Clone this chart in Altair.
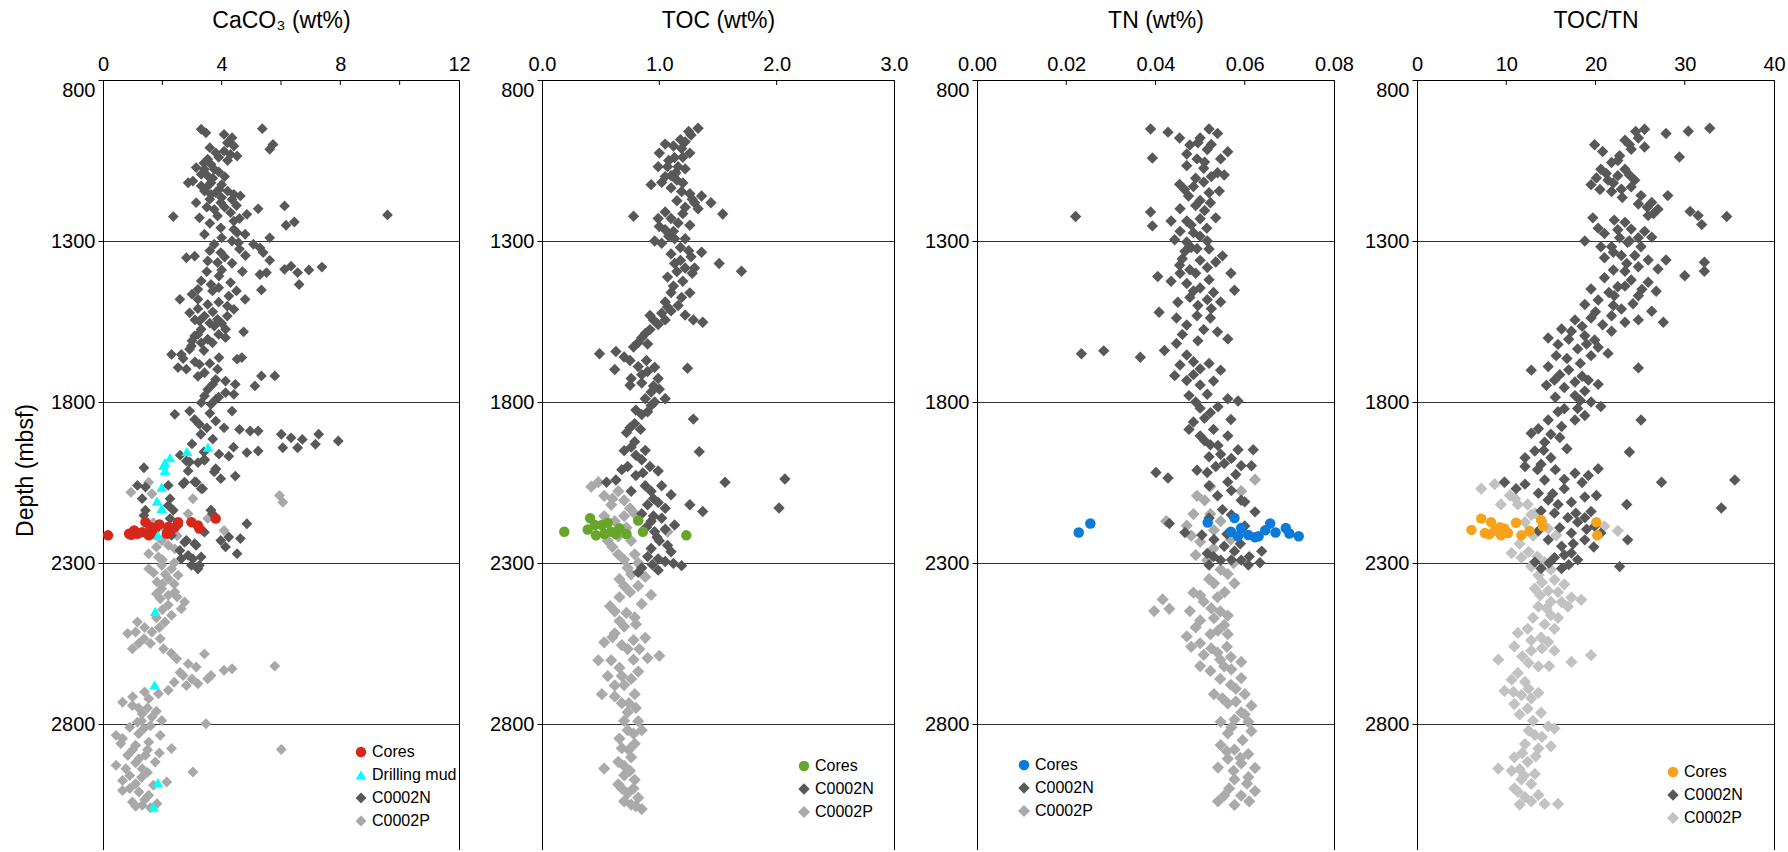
import altair as alt
import pandas as pd

FONT = "Liberation Sans"

# ---------------- CaCO3 panel (value wt%, depth mbsf) ----------------
CACO3_N = [(3.31,953),(3.47,964),(5.37,951),(4.08,969),(4.35,979),(4.19,995),(4.41,1005),(5.73,1000),(5.62,1015),(4.08,1021),(4.30,1031),(4.52,1036),(3.80,1026),(3.53,1046),(3.64,1062),(3.14,1072),(3.42,1077),(3.75,1077),(3.31,1093),(3.53,1098),(2.87,1119),(3.03,1114),(3.31,1129),(3.64,1119),(3.42,1145),(3.91,1140),(3.64,1155),(4.41,1155),(4.63,1160),(4.35,1171),(3.14,1181),(3.97,1181),(3.75,1202),(5.23,1200),(6.12,1191),(2.37,1224),(3.25,1228),(3.86,1222),(4.30,1212),(4.85,1217),(4.41,1238),(6.17,1251),(6.45,1241),(9.59,1219),(3.97,1259),(4.41,1264),(4.52,1274),(4.79,1279),(3.42,1279),(5.62,1290),(3.75,1310),(4.35,1300),(4.57,1305),(5.07,1310),(5.29,1321),(5.40,1336),(3.97,1336),(2.81,1352),(3.09,1347),(3.53,1362),(3.86,1367),(4.35,1369),(5.62,1360),(5.29,1404),(5.51,1398),(6.12,1388),(6.34,1378),(6.56,1398),(6.94,1390),(7.38,1381),(6.61,1435),(3.31,1424),(3.64,1435),(3.91,1409),(4.30,1429),(5.34,1452),(3.69,1455),(3.20,1450),(4.24,1471),(4.79,1481),(2.59,1481),(3.20,1481),(3.53,1497),(4.19,1502),(4.41,1512),(2.92,1523),(3.42,1533),(3.86,1543),(4.19,1533),(3.25,1548),(3.31,1574),(3.75,1564),(4.13,1574),(4.74,1582),(3.09,1595),(3.53,1605),(4.13,1600),(2.98,1626),(3.31,1616),(3.69,1616),(2.31,1652),(2.64,1652),(2.92,1636),(2.53,1693),(2.81,1698),(3.25,1683),(3.42,1709),(3.91,1662),(4.52,1667),(4.68,1662),(3.86,1698),(3.80,1730),(4.13,1735),(4.46,1745),(5.34,1719),(5.79,1719),(5.12,1750),(3.53,1761),(3.42,1781),(4.13,1771),(4.41,1776),(3.31,1802),(3.64,1807),(3.80,1792),(4.35,1828),(2.42,1838),(2.92,1828),(3.09,1854),(3.25,1869),(3.80,1859),(4.08,1880),(4.96,1890),(5.23,1890),(6.01,1900),(6.34,1911),(6.72,1916),(7.27,1900),(7.93,1921),(6.06,1942),(6.56,1942),(7.16,1931),(3.91,1962),(4.24,1968),(4.85,1957),(5.23,1952),(1.38,2004),(2.81,1983),(3.20,1988),(3.42,1978),(2.87,2014),(3.80,2009),(4.46,2030),(3.75,2017),(3.97,2038),(1.16,2059),(1.43,2064),(2.20,2059),(2.70,2054),(3.09,2048),(3.31,2069),(1.32,2100),(2.20,2121),(2.37,2136),(1.43,2136),(3.64,2136),(4.85,2178),(2.53,2183),(3.42,2204),(3.97,2230),(4.24,2219),(4.63,2224),(4.13,2250),(4.52,2271),(2.81,2230),(3.09,2240),(2.59,2261),(2.87,2276),(3.31,2281),(2.98,2307),(3.20,2318),(2.64,2287),(2.31,2214),(2.92,1986),(3.42,1981),(3.80,2007),(2.75,2049),(3.14,2049),(3.36,2069),(2.26,2100),(3.69,2147),(2.75,2235),(3.14,2245),(3.03,2287),(3.25,2307),(1.38,2152),(2.26,2162),
           (3.6,1010),(3.9,1040),(4.2,1050),(3.4,1058),(3.9,1085),(4.1,1100),(3.7,1105),(4.0,1125),(3.5,1132),(3.8,1150),(4.2,1145),(4.0,1165),(3.6,1170),(4.5,1190),(4.1,1195),(3.5,1195),(4.6,1230),(3.6,1245),(4.0,1290),(4.6,1325),(3.6,1330),(4.1,1350),(4.8,1345),(4.0,1390),(3.5,1395),(4.7,1395),(3.9,1445),(4.5,1455),(3.0,1465),(3.9,1490),(3.2,1510),(3.7,1520),(3.1,1545),(3.6,1555),(4.0,1555),(3.2,1590),(3.9,1590),(3.0,1610),(3.4,1640),(2.7,1665),(3.1,1675),(3.6,1680),(3.2,1720),(3.7,1745),(3.9,1785),(3.6,1835),(3.5,1880),(4.6,1885),(3.3,1900),(3.7,1915),(3.0,1930),(4.4,1940),(3.4,1955),(2.6,1965)]
CACO3_P = [(0.94,2080),(1.54,2049),(1.65,2085),(3.03,2100),(5.95,2090),(6.06,2111),(2.87,2147),(3.64,2136),(3.53,2162),(4.08,2199),(1.98,2230),(2.20,2245),(1.54,2271),(2.42,2256),(1.87,2281),(1.54,2318),(1.98,2307),(2.31,2318),(2.53,2338),(1.82,2359),(2.20,2349),(1.98,2380),(2.42,2390),(1.93,2411),(2.20,2400),(2.75,2421),(2.64,2442),(2.31,2462),(2.09,2483),(1.16,2483),(1.10,2514),(0.83,2519),(1.38,2535),(0.99,2566),(1.65,2514),(1.93,2535),(2.04,2566),(2.48,2597),(2.87,2613),(3.42,2582),(3.14,2623),(2.70,2649),(3.20,2675),(3.53,2659),(3.64,2649),(4.08,2633),(4.35,2628),(5.79,2620),(2.81,2680),(2.20,2695),(1.87,2706),(1.54,2721),(0.66,2732),(0.99,2742),(1.32,2768),(1.16,2794),(1.65,2778),(1.98,2789),(1.38,2814),(1.93,2835),(1.54,2856),(1.10,2866),(0.44,2835),(0.66,2845),(2.31,2876),(3.47,2799),(6.01,2879),(1.43,2897),(0.83,2897),(1.21,2908),(1.76,2918),(0.44,2928),(0.77,2939),(1.32,2939),(0.66,2975),(1.10,2985),(3.03,2949),(2.15,2980),(0.66,3006),(1.21,3011),(1.54,3021),(0.99,3042),(1.32,3052),(1.82,3047),
           (1.7,2175),(2.1,2195),(2.5,2215),(1.8,2250),(2.0,2290),(2.4,2300),(1.7,2330),(2.1,2335),(2.4,2365),(2.0,2365),(1.8,2395),(2.5,2405),(2.2,2430),(2.0,2445),(1.8,2470),(1.4,2500),(1.9,2500),(1.2,2550),(1.6,2550),(2.3,2580),(2.6,2640),(3.0,2660),(2.4,2670),(1.4,2700),(1.0,2715),(1.2,2750),(1.5,2750),(1.8,2760),(1.3,2790),(0.9,2810),(1.6,2805),(1.2,2830),(0.6,2860),(1.0,2880),(1.5,2880),(1.9,2890),(1.1,2920),(1.5,2950),(0.9,2960),(1.3,2965),(1.7,2990),(0.9,3000),(1.4,3035),(1.1,3055),(1.6,3060)]
CACO3_CORES = [(0.17,2214),(0.88,2209),(1.05,2199),(1.16,2209),(1.43,2173),(1.60,2188),(1.65,2209),(1.76,2193),(2.20,2188),(2.26,2199),(2.53,2173),(2.15,2209),(2.98,2173),(3.20,2183),(3.25,2193),(3.80,2162),(1.32,2204),(1.54,2214),(1.90,2180),(0.95,2212),(2.40,2190)]
CACO3_MUD = [(2.83,1953),(3.54,1940),(2.26,1973),(2.09,1988),(2.04,1997),(2.09,2012),(1.98,2064),(1.82,2108),(1.98,2130),(1.85,2214),(1.76,2450),(1.74,2678),(1.85,2982),(1.71,3058)]

# ---------------- TOC panel ----------------
TOC_N = [(1.33,950),(1.27,971),(1.22,992),(1.05,999),(1.00,1027),(1.19,1013),(1.26,1027),(1.13,1041),(1.07,1069),(1.16,1069),(1.22,1076),(0.99,1069),(1.10,1097),(1.15,1111),(0.93,1125),(1.02,1118),(1.19,1146),(1.26,1153),(1.36,1160),(1.44,1181),(1.30,1181),(1.22,1195),(1.54,1216),(0.78,1223),(0.99,1230),(1.10,1230),(1.16,1244),(1.26,1251),(1.05,1265),(0.96,1300),(1.02,1307),(1.13,1293),(1.22,1293),(1.36,1335),(1.27,1349),(1.51,1370),(1.70,1394),(1.13,1370),(1.22,1384),(1.30,1384),(1.07,1412),(1.12,1440),(1.26,1461),(1.19,1475),(1.05,1489),(1.02,1524),(1.10,1517),(1.29,1545),(1.37,1552),(0.92,1531),(0.99,1559),(0.88,1587),(0.82,1615),(0.78,1629),(0.49,1650),(0.63,1643),(0.75,1671),(0.62,1699),(0.89,1671),(0.96,1692),(1.24,1695),(0.76,1727),(0.75,1748),(0.85,1741),(0.99,1727),(0.93,1769),(1.05,1790),(0.93,1811),(0.85,1839),(1.29,1853),(0.79,1867),(0.72,1895),(0.79,1923),(0.70,1951),(1.34,1954),(0.85,1979),(0.73,2000),(0.92,2000),(0.99,2014),(0.55,2049),(0.63,2042),(0.80,2028),(1.56,2049),(2.07,2039),(0.76,2077),(0.93,2077),(1.10,2088),(0.90,2119),(0.99,2112),(1.26,2119),(1.37,2140),(2.02,2129),(0.85,2147),(0.95,2154),(1.02,2161),(1.13,2182),(0.89,2189),(0.96,2203),(1.07,2245),(1.00,2231),(0.90,2280),(0.99,2287),(0.85,2315),(1.12,2301),(1.19,2308),(0.99,2322),(0.82,2329),
         (1.25,960),(1.18,985),(1.12,1005),(1.20,1040),(1.08,1050),(1.14,1088),(1.05,1100),(1.20,1120),(1.10,1135),(1.28,1170),(1.15,1175),(1.33,1200),(1.05,1210),(1.20,1215),(1.00,1255),(1.12,1270),(1.08,1285),(1.18,1320),(1.25,1330),(1.10,1340),(1.18,1360),(1.28,1400),(1.15,1395),(1.20,1425),(1.10,1460),(1.16,1500),(1.07,1505),(1.22,1530),(0.95,1545),(1.05,1545),(0.92,1575),(0.85,1600),(0.90,1620),(0.70,1660),(0.82,1690),(0.90,1705),(0.85,1715),(0.95,1750),(1.00,1760),(0.88,1790),(0.96,1800),(0.80,1825),(0.90,1830),(0.75,1880),(0.84,1885),(0.76,1940),(0.88,1950),(0.80,1965),(0.68,2010),(0.86,2020),(0.88,2060),(1.02,2060),(0.95,2100),(1.05,2130),(0.93,2170),(1.05,2195),(0.98,2220),(1.10,2265),(0.93,2255),(1.05,2295),(0.94,2305)]
TOC_P = [(0.48,2049),(0.42,2063),(0.53,2091),(0.65,2077),(0.70,2105),(0.59,2119),(0.53,2154),(0.70,2154),(0.79,2147),(0.56,2231),(0.65,2217),(0.76,2231),(1.07,2203),(0.65,2273),(0.79,2273),(0.73,2315),(0.88,2343),(0.82,2371),(0.93,2399),(0.70,2371),(0.66,2406),(0.58,2434),(0.85,2427),(0.79,2469),(0.70,2497),(0.62,2518),(0.53,2546),(0.78,2539),(0.88,2532),(0.73,2567),(0.83,2567),(0.48,2602),(0.59,2602),(0.90,2595),(1.00,2588),(0.56,2651),(0.68,2651),(0.82,2637),(0.70,2679),(0.51,2707),(0.62,2714),(0.79,2707),(0.68,2735),(0.73,2763),(0.82,2791),(0.85,2819),(0.73,2819),(0.79,2861),(0.68,2875),(0.76,2903),(0.65,2917),(0.53,2938),(0.70,2959),(0.79,2973),(0.65,2987),(0.73,3015),(0.82,3029),(0.76,3050),(0.85,3064),
         (0.60,2100),(0.75,2130),(0.62,2170),(0.72,2190),(0.60,2250),(0.70,2290),(0.82,2300),(0.76,2335),(0.66,2350),(0.75,2390),(0.62,2450),(0.72,2455),(0.80,2490),(0.66,2480),(0.60,2530),(0.68,2555),(0.78,2600),(0.66,2625),(0.76,2660),(0.62,2680),(0.74,2735),(0.80,2750),(0.70,2790),(0.78,2830),(0.66,2845),(0.74,2880),(0.70,2930),(0.75,2945),(0.68,3000),(0.78,3000),(0.70,3040),(0.80,3055)]
TOC_CORES = [(0.19,2203),(0.41,2161),(0.39,2196),(0.46,2214),(0.51,2182),(0.56,2175),(0.59,2203),(0.63,2210),(0.66,2192),(0.72,2210),(0.82,2168),(0.86,2203),(1.23,2214),(0.53,2210),(0.45,2182)]

# ---------------- TN panel ----------------
TN_N = [(0.0389,952),(0.0428,962),(0.0393,1042),(0.0454,980),(0.0477,1002),(0.0500,980),(0.0520,952),(0.0539,966),(0.0516,1016),(0.0562,1023),(0.0546,1045),(0.0493,1045),(0.0470,1066),(0.0508,1074),(0.0539,1088),(0.0554,1095),(0.0454,1124),(0.0485,1131),(0.0508,1117),(0.0543,1145),(0.0474,1160),(0.0500,1174),(0.0523,1181),(0.0221,1224),(0.0389,1210),(0.0393,1253),(0.0435,1238),(0.0470,1238),(0.0500,1231),(0.0535,1228),(0.0485,1274),(0.0443,1296),(0.0470,1303),(0.0516,1300),(0.0466,1332),(0.0493,1324),(0.0550,1346),(0.0500,1360),(0.0454,1375),(0.0477,1389),(0.0516,1382),(0.0569,1400),(0.0405,1410),(0.0435,1425),(0.0470,1432),(0.0500,1446),(0.0577,1453),(0.0477,1475),(0.0516,1482),(0.0546,1489),(0.0408,1521),(0.0447,1539),(0.0493,1532),(0.0523,1539),(0.0470,1561),(0.0508,1575),(0.0539,1582),(0.0562,1604),(0.0234,1650),(0.0284,1641),(0.0366,1661),(0.0420,1640),(0.0447,1618),(0.0470,1654),(0.0485,1675),(0.0500,1697),(0.0546,1701),(0.0443,1718),(0.0470,1733),(0.0500,1747),(0.0516,1776),(0.0585,1797),(0.0562,1790),(0.0500,1819),(0.0523,1833),(0.0485,1862),(0.0569,1854),(0.0500,1905),(0.0562,1905),(0.0523,1933),(0.0546,1962),(0.0585,1948),(0.0619,1948),(0.0554,1991),(0.0592,1998),(0.0615,1998),(0.0401,2019),(0.0428,2036),(0.0493,2012),(0.0516,2019),(0.0562,2048),(0.0623,2141),(0.0592,2105),(0.0539,2091),(0.0550,2134),(0.0431,2177),(0.0466,2205),(0.0504,2213),(0.0531,2227),(0.0554,2248),(0.0577,2263),(0.0516,2270),(0.0546,2291),(0.0592,2291),(0.0608,2306),(0.0638,2263),(0.0634,2299),(0.0520,2306),
        (0.0495,995),(0.0525,1000),(0.0470,1030),(0.0510,1055),(0.0525,1100),(0.0490,1105),(0.0465,1140),(0.0520,1150),(0.0490,1190),(0.0455,1200),(0.0510,1205),(0.0480,1250),(0.0515,1260),(0.0455,1270),(0.0500,1285),(0.0480,1320),(0.0520,1325),(0.0460,1355),(0.0535,1365),(0.0490,1400),(0.0455,1400),(0.0520,1420),(0.0485,1455),(0.0530,1460),(0.0450,1490),(0.0495,1500),(0.0525,1510),(0.0460,1590),(0.0495,1610),(0.0455,1685),(0.0520,1680),(0.0485,1715),(0.0530,1735),(0.0475,1780),(0.0490,1800),(0.0540,1815),(0.0510,1850),(0.0475,1885),(0.0530,1885),(0.0510,1920),(0.0540,1935),(0.0520,1970),(0.0570,1975),(0.0535,2000),(0.0580,2025),(0.0520,2060),(0.0570,2075),(0.0600,2110),(0.0570,2150),(0.0520,2160),(0.0600,2185),(0.0560,2210),(0.0590,2240),(0.0570,2290),(0.0530,2280),(0.0610,2280)]
TN_P = [(0.0623,2041),(0.0493,2091),(0.0523,2062),(0.0592,2077),(0.0424,2170),(0.0470,2184),(0.0485,2148),(0.0523,2148),(0.0546,2170),(0.0500,2234),(0.0531,2198),(0.0569,2227),(0.0592,2205),(0.0516,2291),(0.0546,2320),(0.0562,2334),(0.0531,2363),(0.0577,2363),(0.0416,2413),(0.0397,2449),(0.0431,2442),(0.0485,2392),(0.0508,2420),(0.0539,2406),(0.0477,2449),(0.0500,2478),(0.0531,2471),(0.0554,2492),(0.0562,2463),(0.0470,2528),(0.0500,2549),(0.0523,2521),(0.0562,2521),(0.0508,2585),(0.0539,2578),(0.0569,2592),(0.0523,2635),(0.0554,2621),(0.0592,2607),(0.0531,2707),(0.0569,2678),(0.0592,2657),(0.0600,2707),(0.0562,2736),(0.0615,2743),(0.0592,2764),(0.0546,2793),(0.0577,2786),(0.0608,2793),(0.0562,2829),(0.0615,2822),(0.0546,2865),(0.0577,2879),(0.0608,2893),(0.0562,2908),(0.0592,2922),(0.0623,2936),(0.0577,2972),(0.0608,2965),(0.0554,3022),(0.0592,3022),(0.0623,3008),(0.0577,3051),
        (0.0510,2105),(0.0480,2215),(0.0530,2255),(0.0490,2275),(0.0575,2300),(0.0520,2350),(0.0555,2390),(0.0500,2400),(0.0525,2440),(0.0545,2450),(0.0490,2500),(0.0540,2510),(0.0480,2560),(0.0525,2565),(0.0560,2560),(0.0545,2600),(0.0500,2620),(0.0570,2630),(0.0545,2660),(0.0580,2690),(0.0550,2720),(0.0580,2730),(0.0600,2770),(0.0570,2810),(0.0595,2850),(0.0560,2885),(0.0590,2905),(0.0540,2935),(0.0575,2945),(0.0605,2985),(0.0565,3000),(0.0540,3040),(0.0610,3040)]
TN_CORES = [(0.0228,2205),(0.0254,2177),(0.0517,2174),(0.0577,2160),(0.0569,2203),(0.0592,2191),(0.0608,2213),(0.0631,2217),(0.0646,2198),(0.0657,2177),(0.0669,2205),(0.0692,2191),(0.0700,2208),(0.0721,2217),(0.0623,2220),(0.0585,2217)]

# ---------------- TOC/TN panel ----------------
CN_N = [(25.5,953),(27.9,966),(30.4,959),(32.8,950),(24.8,980),(23.3,987),(24.0,1015),(19.9,1001),(20.8,1022),(25.5,1008),(29.4,1039),(22.7,1035),(21.8,1056),(20.6,1077),(23.3,1077),(20.1,1104),(19.5,1125),(21.4,1111),(22.5,1097),(24.4,1111),(21.8,1146),(22.9,1139),(24.0,1132),(25.1,1159),(28.1,1159),(26.3,1180),(27.0,1201),(25.9,1221),(30.6,1208),(31.5,1221),(34.7,1224),(31.9,1249),(19.7,1228),(20.3,1260),(22.1,1235),(23.3,1242),(21.0,1277),(22.7,1290),(24.0,1263),(25.5,1270),(26.3,1288),(18.8,1300),(20.6,1318),(21.8,1318),(23.6,1304),(25.1,1318),(21.0,1352),(22.9,1345),(24.4,1345),(25.9,1359),(27.9,1359),(32.2,1366),(27.0,1387),(30.0,1408),(32.2,1394),(21.0,1414),(23.3,1394),(24.0,1421),(22.5,1442),(25.9,1428),(26.8,1456),(19.5,1449),(18.8,1497),(20.3,1483),(22.1,1470),(22.9,1511),(24.8,1470),(26.3,1518),(21.8,1532),(23.3,1552),(24.8,1545),(27.6,1552),(17.7,1545),(19.5,1539),(16.2,1573),(17.3,1580),(18.8,1594),(19.9,1607),(21.8,1580),(14.7,1601),(15.8,1621),(18.0,1635),(19.5,1656),(21.4,1649),(15.6,1656),(14.7,1690),(12.8,1701),(15.4,1732),(14.5,1748),(17.7,1738),(19.2,1732),(20.3,1745),(18.8,1766),(24.8,1694),(17.7,1780),(19.5,1800),(20.6,1814),(16.5,1821),(17.7,1856),(16.2,1876),(18.8,1842),(25.1,1856),(14.7,1856),(13.6,1883),(12.8,1897),(14.3,1925),(13.2,1952),(12.1,1973),(15.0,1973),(13.9,1993),(12.1,2000),(14.3,2042),(17.7,2021),(19.2,2028),(20.3,2007),(23.8,1955),(27.4,2049),(35.6,2042),(9.8,2049),(11.1,2069),(12.1,2055),(13.6,2083),(16.5,2069),(14.7,2104),(15.8,2118),(17.3,2111),(20.1,2090),(23.5,2118),(34.1,2129),(13.9,2138),(15.4,2145),(16.9,2159),(18.0,2173),(18.8,2159),(17.3,2207),(18.8,2228),(20.6,2207),(23.6,2228),(13.6,2200),(14.7,2228),(16.2,2248),(17.3,2269),(18.0,2290),(15.4,2283),(13.2,2297),(13.9,2317),(16.2,2317),(22.7,2311),(19.9,2186),
        (24.5,960),(23.8,1000),(22.5,1050),(21.2,1090),(23.8,1095),(22.0,1120),(20.5,1140),(23.0,1165),(24.8,1185),(25.8,1195),(26.5,1215),(22.5,1265),(23.8,1300),(24.8,1290),(22.0,1335),(23.5,1370),(24.8,1380),(22.0,1390),(23.3,1440),(25.2,1450),(21.5,1460),(24.2,1495),(22.0,1500),(20.0,1520),(18.5,1565),(20.8,1560),(19.0,1620),(17.0,1605),(20.3,1630),(16.8,1665),(18.3,1680),(17.0,1700),(16.0,1715),(18.5,1720),(16.5,1755),(15.5,1785),(18.3,1795),(15.8,1830),(18.0,1820),(15.0,1900),(16.0,1910),(14.2,1950),(16.8,1945),(13.5,2010),(15.5,2010),(16.5,2040),(18.5,2050),(15.2,2085),(18.8,2095),(19.5,2140),(17.8,2145),(16.0,2190),(19.0,2195),(17.5,2240),(19.8,2250),(16.5,2275),(14.8,2300),(17.0,2305)]
CN_P = [(7.2,2069),(8.7,2055),(9.8,2049),(10.4,2090),(11.3,2118),(9.4,2118),(12.4,2118),(13.2,2145),(12.1,2173),(14.7,2193),(15.6,2214),(21.0,2186),(22.5,2200),(10.6,2269),(11.7,2283),(12.8,2311),(14.3,2297),(13.6,2338),(15.4,2352),(13.2,2379),(14.7,2386),(16.5,2366),(17.3,2407),(18.4,2414),(16.2,2421),(13.6,2435),(15.0,2462),(16.9,2435),(14.3,2490),(15.4,2504),(12.4,2504),(11.3,2517),(13.9,2531),(14.7,2545),(10.9,2559),(12.8,2572),(15.4,2572),(17.3,2607),(19.5,2586),(9.1,2600),(13.6,2621),(11.3,2641),(10.6,2662),(12.1,2669),(9.8,2697),(11.7,2710),(13.6,2703),(10.9,2738),(12.4,2752),(13.9,2765),(14.7,2807),(15.4,2814),(13.2,2834),(12.1,2862),(13.6,2876),(15.0,2869),(10.9,2903),(12.4,2917),(9.1,2938),(10.6,2945),(11.7,2972),(12.8,2986),(10.9,3000),(12.1,3027),(13.6,3020),(14.3,3048),(15.8,3048),
        (11.0,2100),(12.8,2150),(14.0,2170),(13.0,2215),(11.5,2240),(12.5,2265),(13.5,2280),(15.0,2320),(14.0,2360),(15.8,2390),(13.8,2400),(15.0,2420),(14.5,2440),(13.0,2470),(15.8,2470),(12.8,2540),(14.0,2565),(11.8,2590),(12.5,2610),(14.8,2620),(12.5,2690),(10.8,2700),(12.8,2720),(11.5,2770),(13.0,2790),(12.5,2820),(14.0,2840),(11.8,2890),(13.3,2900),(11.5,2940),(12.0,2960),(13.2,2955),(11.3,3010),(12.8,3040),(11.5,3050)]
CN_CORES = [(6.1,2197),(7.2,2162),(7.6,2207),(8.3,2173),(8.7,2200),(9.3,2189),(9.8,2193),(10.2,2207),(11.1,2175),(11.7,2214),(12.6,2200),(13.9,2166),(14.1,2186),(20.1,2173),(20.2,2214),(8.1,2211),(9.4,2214)]

# tick / label definitions
DEPTH_LABELS = [800, 1300, 1800, 2300, 2800]
DEPTH_DOMAIN = [800, 3191]
PLOT_H = 770

DARK = "#585858"


def panel(layers, legend_order, colors, shapes, sizes, xdomain, label_vals, fmt,
          inner_ticks, title, width, lx, ly, ytitle=None):
    rows = []
    for name, pts in layers:
        for v, d in pts:
            rows.append({"v": v, "d": d, "s": name})
    df = pd.DataFrame(rows)

    xscale = alt.Scale(domain=xdomain, nice=False, zero=False)
    yscale = alt.Scale(domain=DEPTH_DOMAIN, reverse=True, nice=False, zero=False)
    xaxis = alt.Axis(orient="top", values=label_vals, format=fmt, title=title,
                     ticks=False, grid=True, gridColor="black", gridWidth=1,
                     gridOpacity={"condition": {"test": f"datum.value == {xdomain[1]}", "value": 1}, "value": 0},
                     domainColor="black", domainWidth=1, labelPadding=6, titlePadding=22,
                     labelFontSize=20, titleFontSize=23, titleFontWeight="normal",
                     labelFlush=False, labelOverlap=False)
    yargs = dict(orient="left", values=DEPTH_LABELS, format="d", grid=True,
                 gridColor="#333333", gridWidth=1, ticks=True, tickSize=5,
                 tickColor="black", domainColor="black", domainWidth=1,
                 labelPadding=3, labelFontSize=20, labelOverlap=False,
                 labelBaseline={"condition": {"test": "datum.value == 800", "value": "top"}, "value": "middle"})
    if ytitle:
        yargs.update(title=ytitle, titleFontSize=23, titleFontWeight="normal",
                     titleX=-78, titleY=390, titleAngle=270, titleAlign="center",
                     titleBaseline="middle")
    else:
        yargs.update(title=None)
    yaxis = alt.Axis(**yargs)

    leg = alt.Legend(title=None, orient="none", legendX=lx, legendY=ly,
                     labelFontSize=16, labelFont=FONT, labelColor="black",
                     symbolSize=95, rowPadding=7, labelOffset=3, padding=0,
                     symbolStrokeWidth=0, symbolOpacity=1)

    pts = alt.Chart(df).mark_point(filled=True, opacity=1, strokeWidth=0).encode(
        x=alt.X("v:Q", scale=xscale, axis=xaxis),
        y=alt.Y("d:Q", scale=yscale, axis=yaxis),
        color=alt.Color("s:N", scale=alt.Scale(domain=legend_order, range=colors), legend=leg),
        shape=alt.Shape("s:N", scale=alt.Scale(domain=legend_order, range=shapes), legend=leg),
        size=alt.Size("s:N", scale=alt.Scale(domain=legend_order, range=sizes), legend=None),
    )
    ticks = alt.Chart(pd.DataFrame({"v": inner_ticks})).mark_rule(
        color="black", strokeWidth=1).encode(
        x=alt.X("v:Q", scale=xscale, axis=xaxis),
        y=alt.value(0), y2=alt.value(5))
    return alt.layer(pts, ticks).properties(width=width, height=PLOT_H)


p1 = panel([("C0002P", CACO3_P), ("C0002N", CACO3_N), ("Cores", CACO3_CORES), ("Drilling mud", CACO3_MUD)],
           ["Cores", "Drilling mud", "C0002N", "C0002P"],
           ["#d7261a", "#00ffff", DARK, "#a8a8a8"],
           ["circle", "triangle-up", "diamond", "diamond"],
           [110, 120, 150, 150],
           [0, 12], [0, 4, 8, 12], "d", [2, 4, 6, 8, 10], "CaCO₃ (wt%)", 356, 250, 664,
           ytitle="Depth (mbsf)")
p2 = panel([("C0002P", TOC_P), ("C0002N", TOC_N), ("Cores", TOC_CORES)],
           ["Cores", "C0002N", "C0002P"],
           ["#67a62a", DARK, "#aaaaaa"],
           ["circle", "diamond", "diamond"],
           [110, 150, 150],
           [0, 3], [0, 1, 2, 3], ".1f", [1, 2], "TOC (wt%)", 352, 254, 678)
p3 = panel([("C0002P", TN_P), ("C0002N", TN_N), ("Cores", TN_CORES)],
           ["Cores", "C0002N", "C0002P"],
           ["#0a7bd8", DARK, "#aaaaaa"],
           ["circle", "diamond", "diamond"],
           [110, 150, 150],
           [0, 0.08], [0, 0.02, 0.04, 0.06, 0.08], ".2f", [0.02, 0.04, 0.06], "TN (wt%)", 357, 39, 677)
p4 = panel([("C0002P", CN_P), ("C0002N", CN_N), ("Cores", CN_CORES)],
           ["Cores", "C0002N", "C0002P"],
           ["#f7a21b", DARK, "#c2c2c2"],
           ["circle", "diamond", "diamond"],
           [110, 150, 150],
           [0, 40], [0, 10, 20, 30, 40], "d", [10, 20, 30], "TOC/TN", 357, 248, 684)

chart = alt.hconcat(p1, p2, p3, p4, spacing=83, bounds="flush").resolve_scale(
    color="independent", shape="independent", size="independent"
).properties(
    padding={"left": 14, "top": 9, "right": 0, "bottom": 0}
).configure(font=FONT).configure_view(stroke=None).configure_axis(
    labelColor="black", titleColor="black", labelFont=FONT, titleFont=FONT
)

chart.save("out.html", embed_options={"renderer": "svg", "actions": False})
